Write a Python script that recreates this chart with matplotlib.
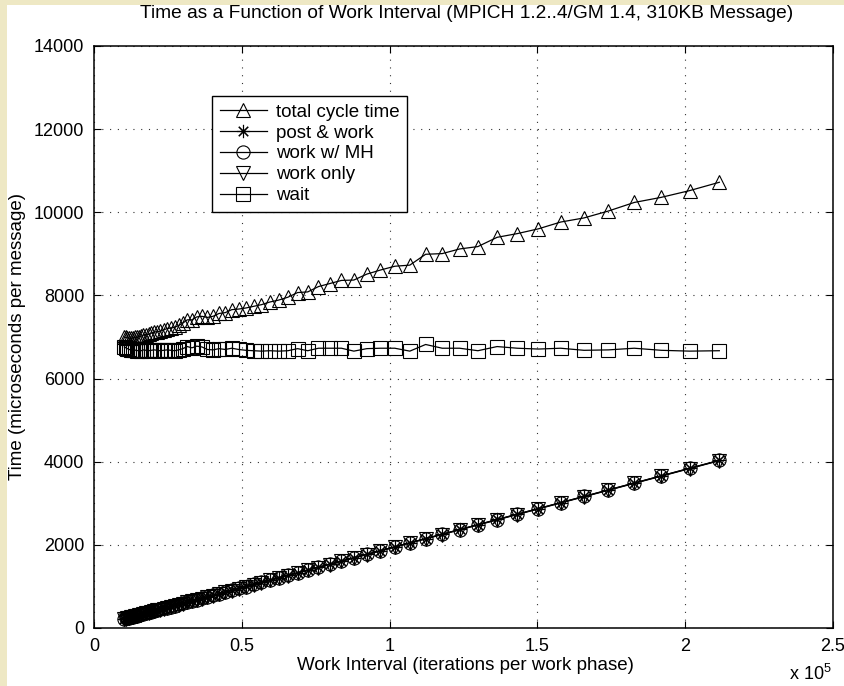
import matplotlib
matplotlib.use('Agg')
import matplotlib.pyplot as plt
from matplotlib.patches import Rectangle

plt.rcParams['font.family'] = ['Liberation Sans', 'DejaVu Sans']
plt.rcParams['mathtext.default'] = 'regular'

# work interval (iterations per work phase)
work_interval = [10272, 10786, 11325, 11891, 12486, 13110, 13766, 14454, 15177, 15936,
                 16732, 17569, 18448, 19370, 20338, 21355, 22423, 23544, 24722, 25958,
                 27256, 28618, 30049, 31552, 33129, 34786, 36525, 38351, 40269, 42282,
                 44396, 46616, 48947, 51394, 53964, 56662, 59495, 62470, 65594, 68873,
                 72317, 75933, 79730, 83716, 87902, 92297, 96912, 101757, 106845, 112188,
                 117797, 123687, 129871, 136365, 143183, 150342, 157859, 165752, 174040, 182742,
                 191879, 201473, 211547]

total_cycle = [7000, 6989, 6979, 6970, 6971, 6973, 6996, 6989, 7012, 7017,
               7052, 7058, 7064, 7092, 7120, 7129, 7140, 7171, 7203, 7217,
               7231, 7277, 7334, 7413, 7412, 7484, 7497, 7471, 7498, 7566,
               7586, 7658, 7672, 7698, 7737, 7778, 7842, 7888, 7957, 8069,
               8085, 8213, 8285, 8361, 8370, 8513, 8611, 8702, 8729, 8990,
               9006, 9118, 9175, 9398, 9487, 9602, 9765, 9864, 10031, 10236,
               10359, 10521, 10722]

post_work = [222, 231, 241, 252, 263, 275, 288, 301, 314, 329,
             344, 360, 376, 394, 412, 431, 452, 473, 495, 519,
             543, 569, 596, 625, 654, 686, 719, 753, 790, 828,
             868, 910, 954, 1000, 1049, 1100, 1154, 1210, 1269, 1331,
             1397, 1465, 1537, 1613, 1692, 1775, 1863, 1954, 2051, 2152,
             2258, 2370, 2487, 2610, 2739, 2874, 3017, 3166, 3323, 3488,
             3661, 3843, 4034]

work_mh = [220, 229, 239, 250, 261, 273, 286, 299, 312, 327,
           342, 358, 374, 392, 410, 429, 450, 471, 493, 517,
           541, 567, 594, 623, 652, 684, 717, 751, 788, 826,
           866, 908, 952, 998, 1047, 1098, 1152, 1208, 1267, 1329,
           1395, 1463, 1535, 1611, 1690, 1773, 1861, 1952, 2049, 2150,
           2256, 2368, 2485, 2608, 2737, 2872, 3015, 3164, 3321, 3486,
           3659, 3841, 4032]

work_only = [212, 221, 231, 242, 253, 265, 278, 291, 304, 319,
             334, 350, 366, 384, 402, 421, 442, 463, 485, 509,
             533, 559, 586, 615, 644, 676, 709, 743, 780, 818,
             858, 900, 944, 990, 1039, 1090, 1144, 1200, 1259, 1321,
             1387, 1455, 1527, 1603, 1682, 1765, 1853, 1944, 2041, 2142,
             2248, 2360, 2477, 2600, 2729, 2864, 3007, 3156, 3313, 3478,
             3651, 3833, 4024]

wait = [6760, 6740, 6720, 6700, 6690, 6680, 6690, 6670, 6680, 6670,
        6690, 6680, 6670, 6680, 6690, 6680, 6670, 6680, 6690, 6680,
        6670, 6690, 6720, 6770, 6740, 6780, 6760, 6700, 6690, 6720,
        6700, 6730, 6700, 6680, 6670, 6660, 6670, 6660, 6670, 6720,
        6670, 6730, 6730, 6730, 6660, 6720, 6730, 6730, 6660, 6820,
        6730, 6730, 6670, 6770, 6730, 6710, 6730, 6680, 6690, 6730,
        6680, 6660, 6670]

xtick_vals = [0, 50000, 100000, 150000, 200000, 250000]
xtick_labels = ['0', '0.5', '1', '1.5', '2', '2.5']
ytick_vals = [0, 2000, 4000, 6000, 8000, 10000, 12000, 14000]

fig = plt.figure(figsize=(8.44, 6.86), dpi=100)
fig.patch.set_facecolor('#EEE8C4')
fig.add_artist(Rectangle((7 / 844, 0), 1, 681 / 686, transform=fig.transFigure,
                         facecolor='white', edgecolor='none', zorder=0))

ax = fig.add_axes([94 / 844, 58 / 686, 739 / 844, 582 / 686])

style = dict(color='black', linewidth=0.9, markersize=9.5, fillstyle='none',
             markeredgewidth=0.8, markeredgecolor='black')
ax.plot(work_interval, total_cycle, marker='^', label='total cycle time', **style)
ax.plot(work_interval, post_work, marker=(8, 2, 0), label='post & work', **style)
ax.plot(work_interval, work_mh, marker='o', label='work w/ MH', **style)
ax.plot(work_interval, work_only, marker='v', label='work only', **style)
ax.plot(work_interval, wait, marker='s', label='wait', **style)

ax.set_xlim(0, 250000)
ax.set_ylim(0, 14000)
ax.set_xticks(xtick_vals)
ax.set_xticklabels(xtick_labels)
ax.set_yticks(ytick_vals)
ax.tick_params(direction='in', length=5, width=0.8, labelsize=13, pad=7, top=True, right=True)
ax.grid(True, color='#333333', linewidth=0.8, linestyle=(0, (1, 6)))
for s in ax.spines.values():
    s.set_linewidth(1.1)

leg = ax.legend(loc='upper left', bbox_to_anchor=(0.16, 0.914), fontsize=13.5,
                frameon=True, fancybox=False, framealpha=1, edgecolor='black',
                handlelength=2.5, handletextpad=0.5, labelspacing=0.2,
                borderpad=0.4, borderaxespad=0)
leg.get_frame().set_linewidth(1.0)

fig.text(467 / 844, 1 - 14 / 686,
         'Time as a Function of Work Interval (MPICH 1.2..4/GM 1.4, 310KB Message)',
         ha='center', va='center', fontsize=13.8)
fig.text(465 / 844, 1 - 665 / 686, 'Work Interval (iterations per work phase)',
         ha='center', va='center', fontsize=13.5)
fig.text(18 / 844, 1 - 337 / 686, 'Time (microseconds per message)',
         ha='center', va='center', rotation=90, fontsize=13.5)
fig.text(810 / 844, 1 - 674 / 686, r'x 10$^{5}$', ha='center', va='center', fontsize=13)

fig.savefig('out.png', dpi=100, facecolor=fig.get_facecolor())
